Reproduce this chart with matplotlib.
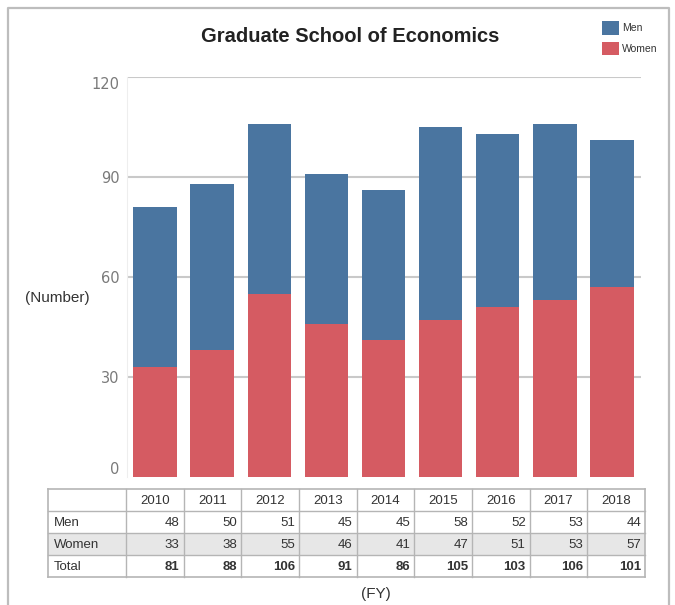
import matplotlib
matplotlib.use("Agg")
import matplotlib.pyplot as plt
from matplotlib.patches import Rectangle, Patch
from matplotlib.lines import Line2D

years = ["2010", "2011", "2012", "2013", "2014", "2015", "2016", "2017", "2018"]
men = [48, 50, 51, 45, 45, 58, 52, 53, 44]
women = [33, 38, 55, 46, 41, 47, 51, 53, 57]
totals = [81, 88, 106, 91, 86, 105, 103, 106, 101]
yticks = [0, 30, 60, 90, 120]

MEN_C = "#4a75a0"
WOMEN_C = "#d55b62"
FONT = "Liberation Sans"

W, H = 675, 605
fig = plt.figure(figsize=(W / 100, H / 100), dpi=100)

def fx(px):
    return px / W

def fy(py):
    return 1 - py / H

# outer frame (top, left, right)
frame = Line2D([fx(8), fx(8), fx(668.5), fx(668.5)], [0, fy(8), fy(8), 0],
               transform=fig.transFigure, color="#bdbdbd", lw=1.6)
fig.add_artist(frame)

# main axes
ax_l, ax_r, ax_t, ax_b = 126.5, 640.5, 77, 477
ax = fig.add_axes([fx(ax_l), fy(ax_b), fx(ax_r - ax_l), (ax_b - ax_t) / H])
x = list(range(len(years)))
ax.bar(x, women, width=0.76, color=WOMEN_C, zorder=3)
ax.bar(x, men, width=0.76, bottom=women, color=MEN_C, zorder=3)
ax.set_xlim(-0.5, len(years) - 0.5)
ax.set_ylim(0, 120)
ax.set_yticks(yticks)
ax.set_yticklabels([str(t) for t in yticks], fontsize=10.5, color="#7a7a7a",
                   family="DejaVu Sans")
for lab, t in zip(ax.get_yticklabels(), yticks):
    if t == 0:
        lab.set_va("bottom")
    elif t == 120:
        lab.set_va("top")
ax.set_xticks([])
ax.tick_params(axis="y", length=0, pad=5)
for t in yticks[1:]:
    ax.axhline(t, color="#c9c9c9", lw=1.5, zorder=1)
for s in ["top", "right", "bottom"]:
    ax.spines[s].set_visible(False)
ax.spines["left"].set_color("#eeeeee")

# title
fig.text(fx(350), fy(37), "Graduate School of Economics", ha="center", va="center",
         fontsize=14.5, fontweight="bold", family=FONT, color="#222222")

# y label / x label
fig.text(fx(57), fy(298), "(Number)", ha="center", va="center", fontsize=11,
         family=FONT, color="#333333")
fig.text(fx(376), fy(594), "(FY)", ha="center", va="center", fontsize=11,
         family=FONT, color="#333333")

# legend
handles = [Patch(facecolor=MEN_C, edgecolor="none", label="Men"),
           Patch(facecolor=WOMEN_C, edgecolor="none", label="Women")]
leg = fig.legend(handles=handles, loc="upper left", bbox_to_anchor=(fx(595), fy(14)),
                 frameon=False, prop={"family": FONT, "size": 7.5},
                 handlelength=1.6, handleheight=1.6, handletextpad=0.3,
                 labelspacing=0.7, borderpad=0.2)
for t in leg.get_texts():
    t.set_color("#333333")

# table
tl, tr, tt = 48, 645, 489
row_h = 22
first_w = 78
col_w = (tr - tl - first_w) / len(years)
tax = fig.add_axes([0, 0, 1, 1])
tax.set_xlim(0, W)
tax.set_ylim(H, 0)
tax.axis("off")
rows = [("Men", men, "normal", "white"),
        ("Women", women, "normal", "#e7e7e7"),
        ("Total", totals, "bold", "white")]
line_c = "#b5b5b5"
TFS = 9.5
# header
for j, yr in enumerate(years):
    cx = tl + first_w + col_w * j
    tax.text(cx + col_w / 2, tt + row_h / 2 + 0.5, yr, ha="center", va="center",
             fontsize=TFS, family=FONT, color="#333333")
for i, (name, vals, wt, bg) in enumerate(rows):
    y0 = tt + row_h * (i + 1)
    tax.add_patch(Rectangle((tl, y0), tr - tl, row_h, facecolor=bg, edgecolor="none"))
    tax.text(tl + 6, y0 + row_h / 2 + 0.5, name, ha="left", va="center", fontsize=TFS,
             family=FONT, color="#333333")
    for j, v in enumerate(vals):
        cx = tl + first_w + col_w * (j + 1)
        tax.text(cx - 4, y0 + row_h / 2 + 0.5, str(v), ha="right", va="center",
                 fontsize=TFS, family=FONT, color="#333333", fontweight=wt)
tb = tt + row_h * 4
for i in range(5):
    yy = tt + row_h * i
    tax.plot([tl, tr], [yy, yy], color=line_c, lw=1.2 if i in (0, 4) else 1.0)
tax.plot([tl, tl], [tt, tb], color=line_c, lw=1.2)
tax.plot([tr, tr], [tt, tb], color=line_c, lw=1.2)
for j in range(len(years)):
    xx = tl + first_w + col_w * j
    tax.plot([xx, xx], [tt, tb], color=line_c, lw=1.0)

fig.savefig("out.png", dpi=100)
